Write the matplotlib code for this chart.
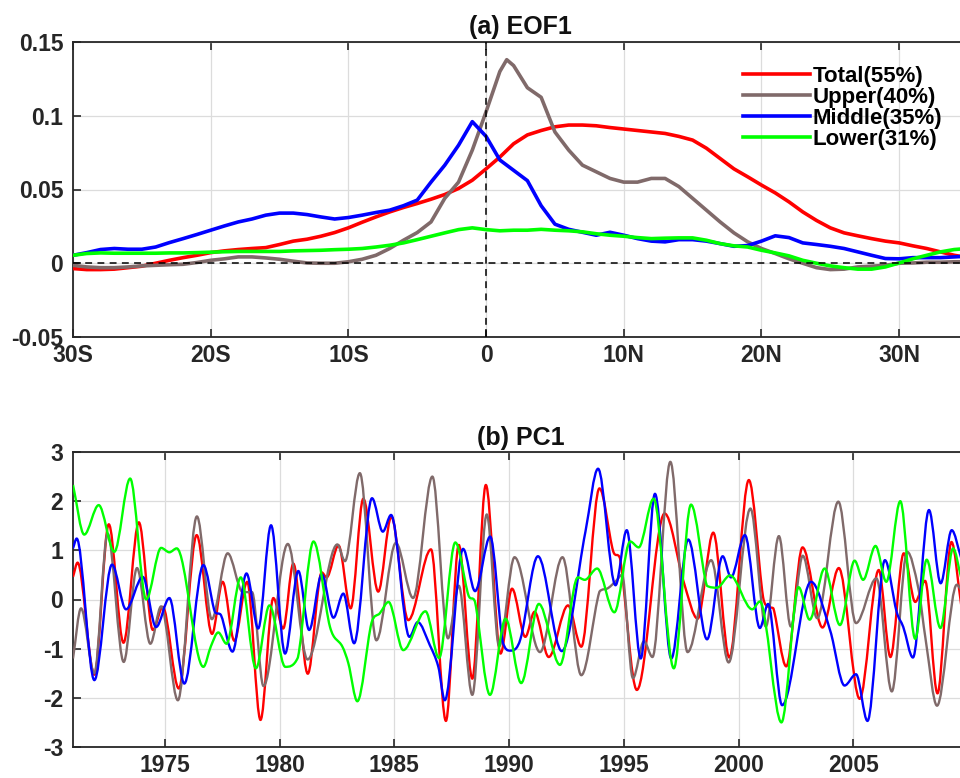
import numpy as np
import matplotlib
matplotlib.use("Agg")
import matplotlib.pyplot as plt
from matplotlib.lines import Line2D
from matplotlib.path import Path
from matplotlib.patches import PathPatch

plt.rcParams['font.family'] = ['Liberation Sans', 'DejaVu Sans']
plt.rcParams['font.weight'] = 'bold'

# ---------------- (a) EOF1 : loading versus latitude ----------------
lat = [-30, -29, -28, -27, -26, -25, -24, -23, -22, -21, -20, -19, -18, -17, -16,
       -15, -14, -13, -12, -11, -10, -9, -8, -7, -6, -5, -4, -3, -2, -1, 0, 1, 1.5,
       2, 3, 4, 5, 6, 7, 8, 9, 10, 11, 12, 13, 14, 15, 16, 17, 18, 19, 20, 21, 22,
       23, 24, 25, 26, 27, 28, 29, 30, 31, 32, 33, 34, 35]

eof_total = [-0.0036, -0.0043, -0.0043, -0.0040, -0.0030, -0.0020, 0.0000, 0.0020,
             0.0038, 0.0054, 0.0072, 0.0084, 0.0093, 0.0100, 0.0106, 0.0127, 0.0150,
             0.0163, 0.0183, 0.0208, 0.0240, 0.0278, 0.0314, 0.0348, 0.0378, 0.0405,
             0.0434, 0.0466, 0.0507, 0.0563, 0.0640, 0.0720, 0.0765, 0.0810, 0.0870,
             0.0900, 0.0925, 0.0937, 0.0937, 0.0932, 0.0920, 0.0910, 0.0900, 0.0890,
             0.0880, 0.0860, 0.0835, 0.0780, 0.0710, 0.0640, 0.0586, 0.0530, 0.0477,
             0.0416, 0.0348, 0.0290, 0.0240, 0.0206, 0.0186, 0.0167, 0.0150, 0.0138,
             0.0118, 0.0100, 0.0077, 0.0054, 0.0038]

eof_upper = [-0.0014, -0.0025, -0.0030, -0.0030, -0.0025, -0.0018, -0.0014, -0.0010,
             -0.0007, 0.0005, 0.0020, 0.0030, 0.0043, 0.0043, 0.0036, 0.0027, 0.0014,
             0.0002, 0.0000, 0.0000, 0.0010, 0.0027, 0.0054, 0.0100, 0.0156, 0.0208,
             0.0280, 0.0440, 0.0550, 0.0767, 0.1027, 0.1300, 0.1380, 0.1340, 0.1190,
             0.1125, 0.0890, 0.0767, 0.0665, 0.0620, 0.0575, 0.0550, 0.0550, 0.0575,
             0.0575, 0.0520, 0.0440, 0.0360, 0.0280, 0.0206, 0.0145, 0.0100, 0.0066,
             0.0030, 0.0000, -0.0030, -0.0043, -0.0040, -0.0025, -0.0020, -0.0014,
             0.0000, 0.0002, 0.0007, 0.0007, 0.0010, 0.0010]

eof_middle = [0.0054, 0.0072, 0.0093, 0.0100, 0.0095, 0.0095, 0.0110, 0.0140, 0.0167,
              0.0195, 0.0224, 0.0253, 0.0280, 0.0300, 0.0326, 0.0340, 0.0340, 0.0330,
              0.0314, 0.0300, 0.0310, 0.0326, 0.0344, 0.0360, 0.0390, 0.0428, 0.0550,
              0.0665, 0.0800, 0.0960, 0.0860, 0.0700, 0.0665, 0.0630, 0.0560, 0.0390,
              0.0265, 0.0230, 0.0210, 0.0190, 0.0210, 0.0190, 0.0167, 0.0150, 0.0145,
              0.0160, 0.0160, 0.0150, 0.0133, 0.0115, 0.0120, 0.0150, 0.0186, 0.0174,
              0.0138, 0.0127, 0.0115, 0.0100, 0.0077, 0.0054, 0.0032, 0.0030, 0.0038,
              0.0038, 0.0038, 0.0043, 0.0048]

eof_lower = [0.0054, 0.0066, 0.0070, 0.0068, 0.0068, 0.0068, 0.0068, 0.0070, 0.0070,
             0.0072, 0.0075, 0.0078, 0.0080, 0.0080, 0.0080, 0.0080, 0.0084, 0.0086,
             0.0088, 0.0092, 0.0095, 0.0100, 0.0110, 0.0122, 0.0138, 0.0160, 0.0183,
             0.0206, 0.0228, 0.0240, 0.0228, 0.0220, 0.0222, 0.0224, 0.0224, 0.0230,
             0.0224, 0.0220, 0.0213, 0.0200, 0.0190, 0.0183, 0.0174, 0.0167, 0.0170,
             0.0172, 0.0172, 0.0156, 0.0133, 0.0118, 0.0110, 0.0088, 0.0070, 0.0050,
             0.0020, 0.0000, -0.0018, -0.0030, -0.0040, -0.0040, -0.0025, 0.0002,
             0.0030, 0.0054, 0.0077, 0.0093, 0.0100]

lat_ticks = [-30, -20, -10, 0, 10, 20, 30]
lat_labels = ['30S', '20S', '10S', '0', '10N', '20N', '30N']
eof_ticks = [-0.05, 0, 0.05, 0.1, 0.15]
eof_labels = ['-0.05', '0', '0.05', '0.1', '0.15']

# ---------------- (b) PC1 : principal component time series ----------------
pc_total_t = [1971.0, 1971.2, 1971.93, 1972.56, 1973.2, 1973.87, 1974.48, 1974.91,
              1975.61, 1976.39, 1977.06, 1977.52, 1978.03, 1978.59, 1979.17, 1979.73,
              1980.16, 1980.6, 1981.23, 1981.84, 1982.05, 1982.57, 1983.1, 1983.65,
              1984.3, 1984.87, 1985.61, 1986.6, 1987.25, 1987.81, 1988.4, 1988.99,
              1989.63, 1990.13, 1990.71, 1991.11, 1991.73, 1992.57, 1993.15, 1993.94,
              1994.54, 1994.84, 1995.57, 1996.78, 1997.61, 1998.22, 1998.9, 1999.6,
              2000.45, 2001.07, 2001.3, 2001.52, 2002.08, 2002.79, 2003.66, 2004.37,
              2005.28, 2006.11, 2006.62, 2007.2, 2007.7, 2008.13, 2008.67, 2009.28,
              2009.7]
pc_total_v = [0.46, 0.75, -1.53, 1.53, -0.88, 1.57, -0.62, -0.15,
              -1.81, 1.31, -0.70, 0.36, -0.84, 0.36, -2.45, 0.03,
              -0.59, 0.73, -1.51, 0.55, 0.45, 1.10, -0.18, 2.05,
              0.16, 1.68, -0.42, 1.02, -2.47, 1.11, -1.61, 2.33,
              -1.10, 0.22, -0.76, -0.25, -1.17, -0.12, -0.96, 2.26,
              0.98, 0.83, -1.84, 1.75, 0.36, -0.39, 1.36, -1.18,
              2.43, 0.05, -0.15, -0.18, -1.36, 1.06, -0.57, 0.64,
              -2.02, 0.60, -1.17, 0.94, -0.05, 0.38, -1.91, 1.17,
              -0.10]

pc_upper_t = [1971.0, 1971.35, 1971.93, 1972.51, 1973.21, 1973.79, 1974.37, 1974.84,
              1975.57, 1976.4, 1977.05, 1977.74, 1978.4, 1978.8, 1979.3, 1980.36,
              1981.22, 1982.52, 1982.85, 1983.5, 1984.22, 1985.07, 1985.82, 1986.66,
              1987.34, 1987.81, 1988.4, 1989.03, 1989.57, 1990.24, 1991.35, 1992.33,
              1993.15, 1993.94, 1994.31, 1994.67, 1994.92, 1995.4, 1995.88, 1996.25,
              1997.03, 1997.78, 1998.81, 1999.57, 2000.52, 2001.19, 2001.76, 2002.28,
              2002.8, 2003.43, 2004.35, 2005.12, 2006.01, 2006.68, 2007.35, 2007.84,
              2008.15, 2008.65, 2009.51, 2009.7]
pc_upper_v = [-1.20, -0.18, -1.50, 1.34, -1.27, 0.64, -0.90, -0.14,
              -2.05, 1.69, -0.40, 0.94, 0.15, 0.15, -1.76, 1.13,
              -1.22, 1.12, 0.78, 2.57, -0.83, 1.15, 0.03, 2.50,
              -0.79, 0.28, -1.94, 1.73, -0.95, 0.86, -1.07, 0.86,
              -1.54, 0.16, 0.23, 0.38, 0.50, -1.60, -0.85, -1.17,
              2.80, -1.07, 0.80, -1.28, 1.85, -0.55, 1.29, -0.55,
              0.89, -0.38, 1.99, -0.48, 0.43, -1.87, 0.97, 0.22,
              -0.80, -2.16, 0.30, 0.20]

pc_middle_t = [1971.0, 1971.16, 1971.93, 1972.7, 1973.31, 1974.04, 1974.62, 1975.2,
               1975.85, 1976.68, 1977.18, 1977.45, 1977.95, 1978.56, 1979.07, 1979.63,
               1980.24, 1980.82, 1981.29, 1981.84, 1982.35, 1982.78, 1983.25, 1984.03,
               1984.5, 1984.86, 1985.66, 1986.02, 1986.55, 1986.92, 1987.2, 1988.0,
               1988.52, 1989.18, 1989.72, 1990.05, 1990.5, 1991.26, 1992.3, 1993.33,
               1993.88, 1994.64, 1995.13, 1995.74, 1996.36, 1997.07, 1997.81, 1998.63,
               1999.31, 1999.67, 2000.28, 2000.93, 2001.29, 2001.9, 2003.16, 2004.0,
               2004.62, 2005.12, 2005.62, 2006.38, 2006.89, 2007.18, 2007.6, 2008.3,
               2008.81, 2009.29, 2009.7]
pc_middle_v = [1.04, 1.24, -1.64, 0.71, -0.20, 0.46, -0.56, 0.03,
               -1.71, 0.70, -0.25, -0.32, -1.06, 0.53, -0.59, 1.51,
               -1.10, 0.58, -0.62, 0.51, -0.37, 0.12, -0.89, 2.06,
               1.38, 1.72, -0.76, -0.46, -0.93, -1.37, -2.05, 1.03,
               0.17, 1.28, -0.85, -1.04, -0.80, 0.88, -1.05, 1.38,
               2.66, 0.29, 1.41, -1.20, 2.15, -1.20, 1.22, -0.81,
               0.88, 0.45, 1.31, -0.58, -0.09, -2.15, 0.36, -0.64,
               -1.75, -1.52, -2.47, 0.80, -0.25, -0.56, -1.18, 1.82,
               0.33, 1.41, 0.85]

pc_lower_t = [1971.0, 1971.49, 1972.12, 1972.8, 1973.49, 1974.19, 1974.84, 1975.2,
              1975.52, 1976.68, 1977.01, 1977.33, 1977.69, 1978.31, 1978.97, 1979.56,
              1980.25, 1980.8, 1981.48, 1982.2, 1982.74, 1983.0, 1983.39, 1984.01,
              1984.37, 1984.75, 1985.39, 1986.36, 1986.95, 1987.66, 1988.23, 1988.52,
              1989.17, 1989.85, 1990.53, 1991.3, 1992.22, 1993.0, 1993.3, 1993.84,
              1994.59, 1995.28, 1995.65, 1996.3, 1997.18, 1997.93, 1998.62, 1999.06,
              1999.63, 2000.6, 2000.93, 2001.87, 2002.62, 2003.1, 2003.75, 2004.42,
              2005.06, 2005.43, 2005.97, 2006.44, 2007.05, 2007.7, 2008.2, 2008.8,
              2009.35, 2009.7]
pc_lower_v = [2.33, 1.32, 1.92, 0.97, 2.46, 0.00, 1.05, 0.96,
              1.04, -1.37, -0.95, -0.67, -0.90, 0.45, -1.40, -0.12,
              -1.37, -1.18, 1.18, -0.56, -0.96, -1.30, -2.07, -0.47,
              -0.28, -0.05, -1.03, -0.24, -1.19, 1.16, 0.09, -0.05,
              -1.94, -0.39, -1.70, -0.09, -1.33, 0.45, 0.40, 0.63,
              -0.26, 1.18, 1.06, 2.05, -1.40, 1.93, 0.28, 0.24,
              0.49, -0.20, -0.04, -2.50, 0.25, -0.41, 0.63, -0.52,
              0.79, 0.40, 1.09, 0.36, 2.00, -0.80, 0.81, -0.58,
              1.04, 0.45]

year_ticks = [1975, 1980, 1985, 1990, 1995, 2000, 2005]
pc_ticks = [-3, -2, -1, 0, 1, 2, 3]

series_names = ['Total(55%)', 'Upper(40%)', 'Middle(35%)', 'Lower(31%)']
series_colors = ['#ff0000', '#806a6a', '#0000ff', '#00ff00']


def smooth_curve(ax, t, v, **kw):
    """Draw a series as a chain of cubic Bezier segments through its points.

    Local extrema get a flat tangent, other points the slope of their
    neighbours; control points are kept inside each segment's value range.
    """
    t = np.asarray(t, float)
    v = np.asarray(v, float)
    n = len(t)
    slope = np.zeros(n)
    for i in range(n):
        if i == 0:
            slope[i] = (v[1] - v[0]) / (t[1] - t[0])
        elif i == n - 1:
            slope[i] = (v[-1] - v[-2]) / (t[-1] - t[-2])
        elif (v[i] - v[i - 1]) * (v[i + 1] - v[i]) <= 0:
            slope[i] = 0.0
        else:
            slope[i] = (v[i + 1] - v[i - 1]) / (t[i + 1] - t[i - 1])
    verts = [(t[0], v[0])]
    codes = [Path.MOVETO]
    for i in range(n - 1):
        d = t[i + 1] - t[i]
        lo, hi = min(v[i], v[i + 1]), max(v[i], v[i + 1])
        c1 = np.clip(v[i] + slope[i] * d / 3, lo, hi)
        c2 = np.clip(v[i + 1] - slope[i + 1] * d / 3, lo, hi)
        verts += [(t[i] + d / 3, c1), (t[i + 1] - d / 3, c2), (t[i + 1], v[i + 1])]
        codes += [Path.CURVE4] * 3
    patch = PathPatch(Path(verts, codes), facecolor='none', **kw)
    ax.add_patch(patch)
    return patch


# ---------------- figure ----------------
fig = plt.figure(figsize=(9.6, 7.78), dpi=100)
W, H = 960.0, 778.0
ax1 = fig.add_axes([73 / W, 1 - 337 / H, 895 / W, 295 / H])
ax2 = fig.add_axes([73 / W, 1 - 747 / H, 895 / W, 295 / H])

axis_color = '#262626'


def style_axes(ax):
    ax.tick_params(direction='in', length=6, width=1.2, top=True, right=True,
                   labelsize=16.5, color=axis_color, labelcolor=axis_color)
    ax.tick_params(axis='y', pad=7)
    ax.tick_params(axis='x', pad=5)
    for sp in ax.spines.values():
        sp.set_linewidth(1.3)
        sp.set_color(axis_color)
    ax.grid(True, color='#dcdcdc', linewidth=0.9)
    ax.set_axisbelow(True)


# (a) EOF1
eof_series = [eof_total, eof_upper, eof_middle, eof_lower]
for vals, c in zip(eof_series, series_colors):
    ax1.plot(lat, vals, color=c, linewidth=2.6, solid_joinstyle='round', zorder=3)
ax1.axhline(0, color='k', linewidth=1.1, dashes=(4.5, 3.5), zorder=4)
ax1.axvline(0, color='k', linewidth=1.1, dashes=(4.5, 3.5), zorder=4)
ax1.set_xlim(-30, 35)
ax1.set_ylim(-0.05, 0.15)
ax1.set_xticks(lat_ticks, lat_labels)
ax1.set_yticks(eof_ticks, eof_labels)
style_axes(ax1)
ax1.set_title('(a) EOF1', fontsize=18, fontweight='bold', pad=5.5, color='#111111')

handles = [Line2D([], [], color=c, linewidth=2.6) for c in series_colors]
ax1.legend(handles, series_names, loc='upper left', bbox_to_anchor=(0.7486, 0.918),
           frameon=False, fontsize=16, handlelength=3.0, handletextpad=0.15,
           labelspacing=0.0, borderpad=0, borderaxespad=0)

# (b) PC1
pc_series = [(pc_total_t, pc_total_v), (pc_upper_t, pc_upper_v),
             (pc_middle_t, pc_middle_v), (pc_lower_t, pc_lower_v)]
for (t, v), c in zip(pc_series, series_colors):
    smooth_curve(ax2, t, v, edgecolor=c, linewidth=1.7, joinstyle='round', zorder=3)
ax2.set_xlim(1971, 2010)
ax2.set_ylim(-3, 3)
ax2.set_xticks(year_ticks, [str(y) for y in year_ticks])
ax2.set_yticks(pc_ticks, [str(p) for p in pc_ticks])
style_axes(ax2)
ax2.set_title('(b) PC1', fontsize=18, fontweight='bold', pad=5, color='#111111')

fig.savefig('out.png', dpi=100)
